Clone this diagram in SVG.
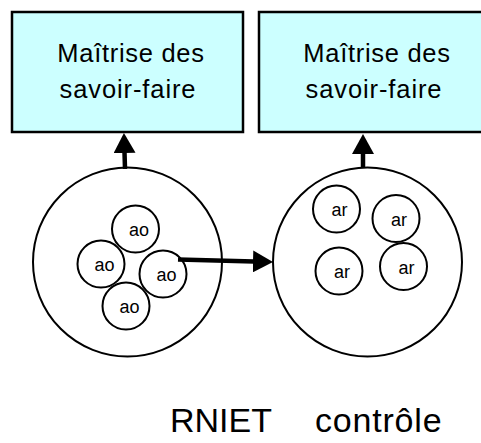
<svg xmlns="http://www.w3.org/2000/svg" width="481" height="443" viewBox="0 0 481 443">
<defs>
<style>
.box{fill:#ccffff;stroke:#000;stroke-width:2.5}
.big{fill:#fff;stroke:#000;stroke-width:2}
.sm{fill:#fff;stroke:#000;stroke-width:2}
.bt{font-family:"Liberation Sans",Arial,sans-serif;font-size:25.5px;fill:#000;text-anchor:middle}
.st{font-family:"Liberation Sans",Arial,sans-serif;font-size:18px;fill:#000;text-anchor:middle}
.lbl{font-family:"Liberation Sans",Arial,sans-serif;font-size:34px;fill:#000}
.conn{stroke:#000;stroke-width:4.5;fill:none;marker-end:url(#ah)}
</style>
<marker id="ah" markerUnits="userSpaceOnUse" viewBox="0 0 20 22" markerWidth="20" markerHeight="22" refX="1" refY="11" orient="auto">
<path d="M0,0 L20,11 L0,22 z" fill="#000"/>
</marker>
</defs>
<rect width="481" height="443" fill="#fff"/>
<g id="box1">
<rect class="box" x="12" y="12" width="231" height="120"/>
<text class="bt" x="131" y="62" letter-spacing="0.7">Maîtrise des</text>
<text class="bt" x="128" y="98" letter-spacing="0.9">savoir-faire</text>
</g>
<g id="box2">
<rect class="box" x="259" y="12" width="232" height="120"/>
<text class="bt" x="377" y="62" letter-spacing="0.7">Maîtrise des</text>
<text class="bt" x="374" y="98" letter-spacing="0.9">savoir-faire</text>
</g>
<g id="circle1">
<circle class="big" cx="127.5" cy="262" r="94.5"/>
<circle class="sm" cx="135.5" cy="229" r="23.5"/>
<text class="st" x="139" y="236">ao</text>
<circle class="sm" cx="101" cy="264" r="23.5"/>
<text class="st" x="104.5" y="271">ao</text>
<circle class="sm" cx="163" cy="274" r="23.5"/>
<text class="st" x="166.5" y="281">ao</text>
<circle class="sm" cx="126" cy="306" r="23.5"/>
<text class="st" x="129.5" y="313">ao</text>
</g>
<g id="circle2">
<circle class="big" cx="367.5" cy="262" r="94.5"/>
<circle class="sm" cx="336.5" cy="209" r="23.5"/>
<text class="st" x="339.5" y="216">ar</text>
<circle class="sm" cx="396" cy="218.5" r="23.5"/>
<text class="st" x="399" y="225.5">ar</text>
<circle class="sm" cx="339" cy="271" r="23.5"/>
<text class="st" x="342" y="278">ar</text>
<circle class="sm" cx="403.5" cy="266.5" r="23.5"/>
<text class="st" x="406.5" y="273.5">ar</text>
</g>
<g id="connectors">
<line class="conn" x1="125" y1="169" x2="124.5" y2="152"/>
<line class="conn" x1="363" y1="167" x2="363" y2="153"/>
<line class="conn" x1="178" y1="259.5" x2="254" y2="261.5"/>
</g>
<g id="label">
<text class="lbl" y="432"><tspan x="170">RNIET</tspan><tspan x="315" letter-spacing="0.8">contrôle</tspan></text>
</g>
</svg>
